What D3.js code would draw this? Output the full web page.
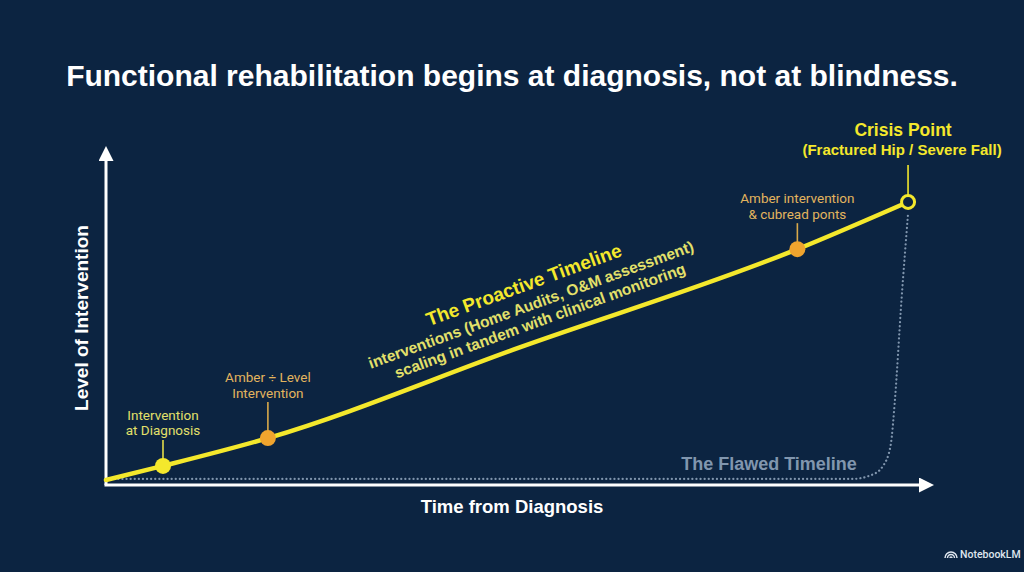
<!DOCTYPE html>
<html><head><meta charset="utf-8">
<script src="https://cdn.jsdelivr.net/npm/d3@7"></script>
<style>html,body{margin:0;padding:0;background:#0c2441;}svg{display:block;}</style>
</head><body>
<svg id="chart" width="1024" height="572"></svg>
<script>
// ---- data ----
const titleText = "Functional rehabilitation begins at diagnosis, not at blindness.";
const xAxisLabel = "Time from Diagnosis";
const yAxisLabel = "Level of Intervention";
// Proactive timeline (time 0-100, level 0-100)
const proactiveTime  = [0, 6.9, 19.6, 50, 83.7, 97.1];
const proactiveLevel = [1.5, 5.7, 14, 41, 70.4, 84.5];
// Flawed timeline
const flawedTime  = [0, 60, 90.3, 92.7, 94.1, 95.0, 95.5, 96.3, 97.1];
const flawedLevel = [1.8, 1.8, 1.8, 3, 5.8, 12, 25, 55, 81];
// markers
const markerNames = ["Intervention at Diagnosis", "Amber ÷ Level Intervention", "Amber intervention & cubread ponts", "Crisis Point"];
const markerTime  = [6.9, 19.6, 83.7, 97.1];
const markerLevel = [5.7, 14, 70.4, 84.5];
const markerKind  = ["yellow", "amber", "amber", "crisis"];
const markerLines = [["Intervention", "at Diagnosis"], ["Amber ÷ Level", "Intervention"], ["Amber intervention", "& cubread ponts"], ["Crisis Point", "(Fractured Hip / Severe Fall)"]];
const proactiveLabel = ["The Proactive Timeline", "interventions (Home Audits, O&M assessment)", "scaling in tandem with clinical monitoring"];
const flawedLabel = "The Flawed Timeline";

// ---- drawing ----
const svg = d3.select("#chart");
const W = 1024, H = 572;
const BG = "#0c2441", YEL = "#f4e82c", AMB = "#f0a42e", TXTY = "#e3e06a", TXTA = "#e3b45e", GREY = "#8196ae";
const FONT = "'Liberation Sans', Arial, sans-serif";
const SFONT = "Roboto, 'Noto Sans', sans-serif";
svg.append("rect").attr("width", W).attr("height", H).attr("fill", BG);

const x = d3.scaleLinear().domain([0, 100]).range([106, 932]);
const y = d3.scaleLinear().domain([0, 100]).range([485, 150]);

svg.append("text").attr("x", 512).attr("y", 86).attr("text-anchor", "middle")
  .attr("fill", "#ffffff").attr("font-family", FONT).attr("font-weight", 700)
  .attr("font-size", 30).text(titleText);

// arrow markers
const defs = svg.append("defs");
defs.append("marker").attr("id", "arr").attr("viewBox", "0 0 10 10").attr("refX", 2).attr("refY", 5)
  .attr("markerWidth", 5).attr("markerHeight", 5).attr("markerUnits", "strokeWidth").attr("orient", "auto")
  .append("path").attr("d", "M0,0 L10,5 L0,10 Z").attr("fill", "#ffffff");

// flawed dotted line
const fData = flawedTime.map((t, i) => [t, flawedLevel[i]]);
svg.append("path").datum(fData)
  .attr("d", d3.line().x(d => x(d[0])).y(d => y(d[1])).curve(d3.curveMonotoneX))
  .attr("fill", "none").attr("stroke", GREY).attr("stroke-width", 2.2)
  .attr("stroke-dasharray", "0.1 4").attr("stroke-linecap", "round");

// axes
svg.append("line").attr("x1", x(0)).attr("y1", y(0)).attr("x2", x(0)).attr("y2", 158)
  .attr("stroke", "#fff").attr("stroke-width", 3).attr("marker-end", "url(#arr)");
svg.append("line").attr("x1", x(0) - 1.5).attr("y1", y(0)).attr("x2", 922).attr("y2", y(0))
  .attr("stroke", "#fff").attr("stroke-width", 3).attr("marker-end", "url(#arr)");

svg.append("text").attr("x", 512).attr("y", 513).attr("text-anchor", "middle")
  .attr("fill", "#fff").attr("font-family", FONT).attr("font-weight", 700).attr("font-size", 18.5).text(xAxisLabel);
svg.append("text").attr("transform", "translate(88,318) rotate(-90)").attr("text-anchor", "middle")
  .attr("fill", "#fff").attr("font-family", FONT).attr("font-weight", 700).attr("font-size", 19).text(yAxisLabel);

// proactive line
const pData = proactiveTime.map((t, i) => [t, proactiveLevel[i]]);
svg.append("path").datum(pData)
  .attr("d", d3.line().x(d => x(d[0])).y(d => y(d[1])).curve(d3.curveMonotoneX))
  .attr("fill", "none").attr("stroke", YEL).attr("stroke-width", 4.5).attr("stroke-linecap", "round");

// flawed label
svg.append("text").attr("x", 769).attr("y", 470).attr("text-anchor", "middle")
  .attr("fill", GREY).attr("font-family", FONT).attr("font-weight", 700).attr("font-size", 18).text(flawedLabel);

// proactive label
const pl = svg.append("g").attr("transform", "translate(526,291) rotate(-20)");
pl.append("text").attr("x", 0).attr("y", 0).attr("text-anchor", "middle").attr("fill", YEL)
  .attr("font-family", FONT).attr("font-weight", 700).attr("font-size", 19).text(proactiveLabel[0]);
pl.append("text").attr("x", 0).attr("y", 20).attr("text-anchor", "middle").attr("fill", TXTY)
  .attr("font-family", FONT).attr("font-weight", 700).attr("font-size", 15.5).text(proactiveLabel[1]);
pl.append("text").attr("x", 3).attr("y", 38).attr("text-anchor", "middle").attr("fill", TXTY)
  .attr("font-family", FONT).attr("font-weight", 700).attr("font-size", 15.5).text(proactiveLabel[2]);

// markers
markerNames.forEach((name, i) => {
  const cx = x(markerTime[i]), cy = y(markerLevel[i]);
  const kind = markerKind[i];
  const g = svg.append("g");
  const lineCol = kind === "amber" ? "#d9a94a" : (kind === "crisis" ? YEL : "#e4dc4a");
  const top = kind === "crisis" ? cy - 37 : (i === 1 ? cy - 36 : cy - 26);
  g.append("line").attr("x1", cx).attr("x2", cx).attr("y1", top).attr("y2", cy - 7)
    .attr("stroke", lineCol).attr("stroke-width", 1.6);
  if (kind === "crisis") {
    g.append("circle").attr("cx", cx).attr("cy", cy).attr("r", 6.5).attr("fill", BG)
      .attr("stroke", YEL).attr("stroke-width", 3);
    g.append("text").attr("x", cx - 5).attr("y", cy - 66).attr("text-anchor", "middle").attr("fill", YEL)
      .attr("font-family", FONT).attr("font-weight", 700).attr("font-size", 17.5).text(markerLines[i][0]);
    g.append("text").attr("x", cx - 6).attr("y", cy - 47).attr("text-anchor", "middle").attr("fill", YEL)
      .attr("font-family", FONT).attr("font-weight", 700).attr("font-size", 15).text(markerLines[i][1]);
  } else {
    g.append("circle").attr("cx", cx).attr("cy", cy).attr("r", 8)
      .attr("fill", kind === "amber" ? AMB : YEL);
    const col = kind === "amber" ? TXTA : TXTY;
    const base = top - 20;
    markerLines[i].forEach((ln, j) => {
      g.append("text").attr("x", cx).attr("y", base + j * 15.5).attr("text-anchor", "middle").attr("fill", col)
        .attr("font-family", SFONT).attr("font-weight", 400).attr("font-size", 13.5).text(ln);
    });
  }
});

// watermark
const wm = svg.append("g").attr("transform", "translate(945,558)");
wm.append("path").attr("d", "M0,0 A6,6 0 0 1 12,0 M2.5,0 A3.5,3.5 0 0 1 9.5,0 M5,0 A1,1 0 0 1 7,0")
  .attr("fill", "none").attr("stroke", "#dfe6ee").attr("stroke-width", 1.5);
wm.append("text").attr("x", 15).attr("y", 0).attr("fill", "#dfe6ee").attr("font-family", SFONT)
  .attr("font-weight", 500).attr("font-size", 10.5).text("NotebookLM");
</script>
</body></html>
